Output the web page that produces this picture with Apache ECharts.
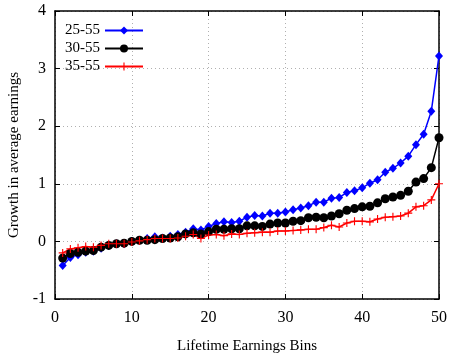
<!DOCTYPE html>
<html>
<head>
<meta charset="utf-8">
<script src="https://cdn.jsdelivr.net/npm/echarts@6/dist/echarts.min.js"></script>
<style>
  html, body { margin: 0; padding: 0; background: #fff; }
  #chart { width: 449px; height: 355px; }
</style>
</head>
<body>
<div id="chart"></div>
<script>
// bins 1..50
const bins = Array.from({ length: 50 }, (_, i) => i + 1)

const s2555 = [
  -0.42, -0.28, -0.23, -0.19, -0.17, -0.12, -0.07, -0.04, -0.04, 0.0,
  0.02, 0.05, 0.08, 0.06, 0.09, 0.12, 0.16, 0.22, 0.2, 0.26,
  0.31, 0.34, 0.33, 0.35, 0.42, 0.45, 0.44, 0.49, 0.49, 0.51,
  0.55, 0.58, 0.62, 0.68, 0.68, 0.75, 0.76, 0.85, 0.88, 0.93,
  1.01, 1.07, 1.2, 1.27, 1.36, 1.48, 1.68, 1.86, 2.26, 3.22,
]
const s3055 = [
  -0.29, -0.21, -0.19, -0.17, -0.16, -0.1, -0.07, -0.04, -0.03, 0.0,
  0.02, 0.02, 0.03, 0.05, 0.06, 0.08, 0.13, 0.15, 0.13, 0.17,
  0.21, 0.21, 0.22, 0.22, 0.27, 0.27, 0.26, 0.3, 0.32, 0.32,
  0.35, 0.36, 0.41, 0.42, 0.41, 0.44, 0.48, 0.54, 0.57, 0.6,
  0.61, 0.67, 0.74, 0.77, 0.8, 0.87, 1.03, 1.09, 1.28, 1.8,
]
const s3555 = [
  -0.2, -0.13, -0.11, -0.09, -0.1, -0.07, -0.04, -0.04, -0.04, -0.01,
  0.01, 0.03, 0.05, 0.05, 0.05, 0.06, 0.09, 0.12, 0.05, 0.11,
  0.12, 0.1, 0.13, 0.12, 0.14, 0.15, 0.16, 0.16, 0.18, 0.18,
  0.19, 0.2, 0.21, 0.21, 0.24, 0.28, 0.25, 0.32, 0.35, 0.35,
  0.34, 0.39, 0.42, 0.43, 0.44, 0.49, 0.6, 0.62, 0.72, 1.0,
]

const font = 'Liberation Serif, Times New Roman, serif'
const plusPath = 'path://M4.3,0H5.7V4.3H10V5.7H5.7V10H4.3V5.7H0V4.3H4.3Z'

const pairs = (ys) => bins.map((x, i) => [x, ys[i]])

const makeSeries = (name, ys, color, symbol, size) => ({
  name,
  type: 'line',
  data: pairs(ys),
  symbol,
  symbolSize: size,
  showSymbol: true,
  lineStyle: { color, width: 1.5 },
  itemStyle: { color },
  emphasis: { disabled: true },
  animation: false,
  z: 3,
})

const tickStyle = { show: true, inside: true, length: 5, lineStyle: { color: '#000', width: 1 } }
const lineBox = { show: true, onZero: false, lineStyle: { color: '#000', width: 1.5 } }
const splitDots = { show: true, lineStyle: { color: '#b0b0b0', type: [1, 3], width: 1 } }

const chart = echarts.init(document.getElementById('chart'))
chart.setOption({
  backgroundColor: '#fff',
  textStyle: { fontFamily: font },
  grid: { left: 55, right: 10, top: 11, bottom: 56, outerBoundsMode: 'none' },
  legend: {
    left: 60,
    top: 18,
    orient: 'vertical',
    align: 'right',
    itemWidth: 38,
    itemHeight: 10,
    itemGap: 3,
    textStyle: { fontFamily: font, fontSize: 15, color: '#000' },
    data: ['25-55', '30-55', '35-55'],
  },
  xAxis: [
    {
      type: 'value',
      min: 0,
      max: 50,
      interval: 10,
      name: 'Lifetime Earnings Bins',
      nameLocation: 'middle',
      nameGap: 40,
      nameTextStyle: { fontFamily: font, fontSize: 15, color: '#000' },
      axisLine: lineBox,
      axisTick: tickStyle,
      axisLabel: { fontFamily: font, fontSize: 16, color: '#000', margin: 11 },
      splitLine: splitDots,
    },
    {
      type: 'value',
      position: 'top',
      min: 0,
      max: 50,
      interval: 10,
      axisLine: lineBox,
      axisTick: tickStyle,
      axisLabel: { show: false },
      splitLine: { show: false },
    },
  ],
  yAxis: [
    {
      type: 'value',
      min: -1,
      max: 4,
      interval: 1,
      name: 'Growth in average earnings',
      nameLocation: 'middle',
      nameGap: 30,
      nameTextStyle: { fontFamily: font, fontSize: 15, color: '#000' },
      axisLine: lineBox,
      axisTick: tickStyle,
      axisLabel: { fontFamily: font, fontSize: 16, color: '#000', margin: 9 },
      splitLine: splitDots,
    },
    {
      type: 'value',
      position: 'right',
      min: -1,
      max: 4,
      interval: 1,
      axisLine: lineBox,
      axisTick: tickStyle,
      axisLabel: { show: false },
      splitLine: { show: false },
    },
  ],
  series: [
    makeSeries('25-55', s2555, '#0000ff', 'diamond', [8, 9]),
    makeSeries('30-55', s3055, '#000000', 'circle', 9),
    makeSeries('35-55', s3555, '#ff0000', plusPath, 8),
  ],
})
</script>
</body>
</html>
